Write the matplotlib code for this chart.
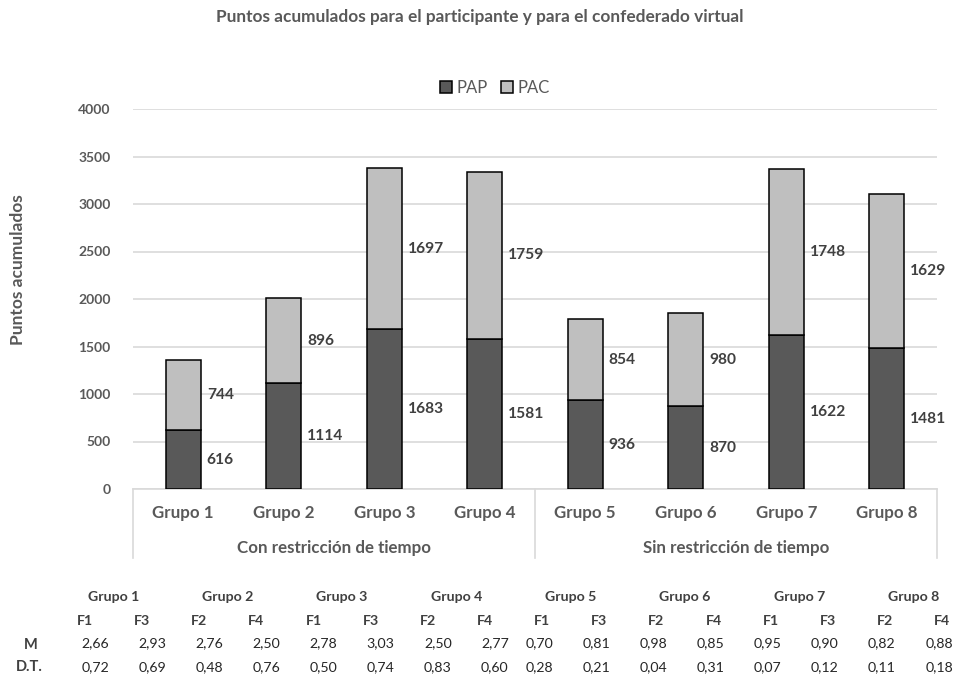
import numpy as np
import matplotlib.pyplot as plt

plt.rcParams['font.family'] = ['Lato', 'DejaVu Sans']

grupos = ['Grupo 1', 'Grupo 2', 'Grupo 3', 'Grupo 4',
          'Grupo 5', 'Grupo 6', 'Grupo 7', 'Grupo 8']
condiciones = ['Con restricción de tiempo', 'Sin restricción de tiempo']
pap = [616, 1114, 1683, 1581, 936, 870, 1622, 1481]
pac = [744, 896, 1697, 1759, 854, 980, 1748, 1629]

# tabla de medias y desviaciones por fase
fases = ['F1', 'F3', 'F2', 'F4', 'F1', 'F3', 'F2', 'F4',
         'F1', 'F3', 'F2', 'F4', 'F1', 'F3', 'F2', 'F4']
medias = ['2,66', '2,93', '2,76', '2,50', '2,78', '3,03', '2,50', '2,77',
          '0,70', '0,81', '0,98', '0,85', '0,95', '0,90', '0,82', '0,88']
desv = ['0,72', '0,69', '0,48', '0,76', '0,50', '0,74', '0,83', '0,60',
        '0,28', '0,21', '0,04', '0,31', '0,07', '0,12', '0,11', '0,18']

W, H = 961, 679
GRAY = '#595959'
GRID = '#d9d9d9'

fig = plt.figure(figsize=(W / 100, H / 100), dpi=100)
ax = fig.add_axes([133 / W, 1 - 489 / H, (937 - 133) / W, (489 - 109) / H])

x = np.arange(len(grupos))
bw = 0.35
ax.bar(x, pap, bw, color='#595959', edgecolor='black', linewidth=1.1,
       label='PAP', zorder=3)
ax.bar(x, pac, bw, bottom=pap, color='#bfbfbf', edgecolor='black',
       linewidth=1.1, label='PAC', zorder=3)

for xi, a, b in zip(x, pap, pac):
    ax.text(xi + bw / 2 + 0.06, a / 2, str(a), ha='left', va='center',
            fontsize=11.2, fontweight='bold', color='#404040')
    ax.text(xi + bw / 2 + 0.06, a + b / 2, str(b), ha='left', va='center',
            fontsize=11.2, fontweight='bold', color='#404040')

ax.set_xlim(-0.5, 7.5)
ax.set_ylim(0, 4000)
ax.set_yticks(np.arange(0, 4001, 500))
ax.yaxis.grid(True, color=GRID, linewidth=1.2, zorder=0)
ax.set_axisbelow(True)
for s in ['top', 'right', 'left']:
    ax.spines[s].set_visible(False)
ax.spines['bottom'].set_color(GRID)
ax.spines['bottom'].set_linewidth(1.2)
ax.tick_params(axis='y', length=0, pad=16, labelsize=10, labelcolor=GRAY)
ax.set_xticks([])
for lab in ax.get_yticklabels():
    lab.set_fontweight('bold')

# eje de categorías en dos niveles
tr = ax.get_xaxis_transform()
ph = 489 - 109
for xv in [-0.5, 3.5, 7.5]:
    ax.plot([xv, xv], [0, -(558 - 489) / ph], color=GRID, lw=1.2,
            transform=tr, clip_on=False)
for xi, g in zip(x, grupos):
    ax.text(xi, -(513 - 489) / ph, g, ha='center', va='center',
            fontsize=12.2, fontweight='bold', color=GRAY, transform=tr)
for k, c in enumerate(condiciones):
    ax.text(1.5 + 4 * k, -(548 - 489) / ph, c, ha='center', va='center',
            fontsize=12.2, fontweight='bold', color=GRAY, transform=tr)

fig.text(480 / W, 1 - 17 / H,
         'Puntos acumulados para el participante y para el confederado virtual',
         ha='center', va='center', fontsize=12.4, fontweight='bold', color=GRAY)
fig.text(18 / W, 1 - 270 / H, 'Puntos acumulados', rotation=90,
         ha='center', va='center', fontsize=12.5, fontweight='bold', color=GRAY)

fig.legend(loc='center', bbox_to_anchor=(495 / W, 1 - 88 / H), ncol=2,
           frameon=False, fontsize=12, handlelength=0.7, handleheight=0.7,
           handletextpad=0.3, columnspacing=0.8, labelcolor=GRAY)

# tabla inferior
cols = np.linspace(85, 942, 16)
for g in range(8):
    fig.text((cols[2 * g] + cols[2 * g + 1]) / 2 / W, 1 - 597 / H, grupos[g],
             ha='center', va='center', fontsize=10.2, fontweight='bold',
             color='#404040')
for i, cx in enumerate(cols):
    off = 10 if i < 8 else -3
    fig.text(cx / W, 1 - 621 / H, fases[i], ha='center', va='center',
             fontsize=10.2, fontweight='bold', color='#404040')
    fig.text((cx + off) / W, 1 - 643 / H, medias[i], ha='center',
             va='center', fontsize=10.2, color='#262626')
    fig.text((cx + off) / W, 1 - 667 / H, desv[i], ha='center',
             va='center', fontsize=10.2, color='#262626')
fig.text(31 / W, 1 - 645 / H, 'M', ha='center', va='center', fontsize=10.5,
         fontweight='bold', color='#404040')
fig.text(29 / W, 1 - 667 / H, 'D.T.', ha='center', va='center',
         fontsize=10.5, fontweight='bold', color='#404040')

fig.savefig('out.png', dpi=100)
